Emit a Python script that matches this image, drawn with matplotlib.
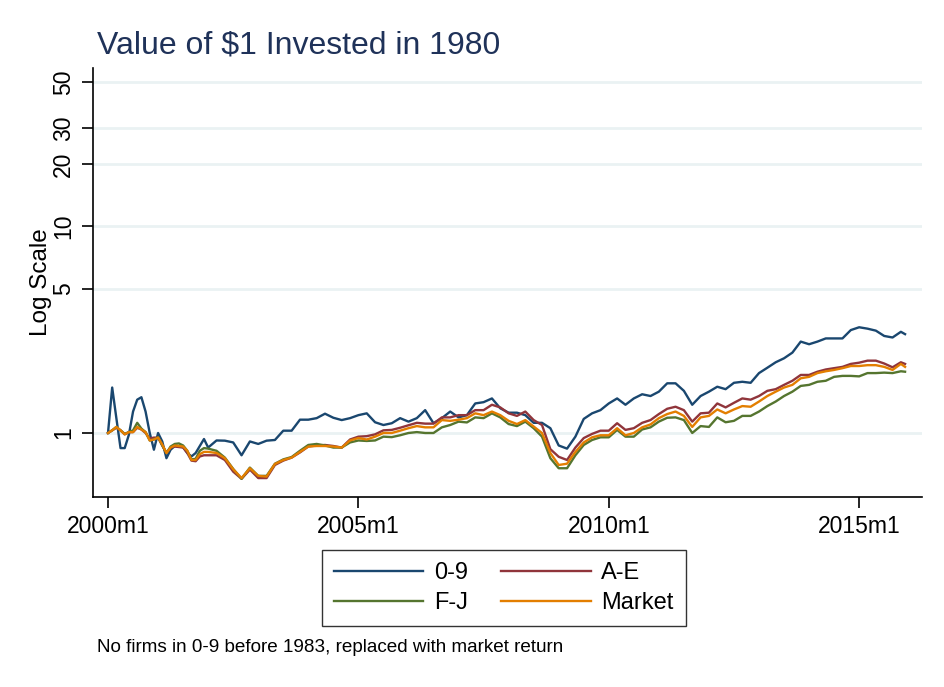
import matplotlib
matplotlib.use("Agg")
import matplotlib.pyplot as plt
from matplotlib.ticker import FixedLocator, NullLocator

plt.rcParams['font.family'] = ['Liberation Sans', 'DejaVu Sans']

# month index counted from 2000m1: monthly for the first two years, then every other month
months = list(range(0, 24)) + list(range(24, 192, 2)) + [191]

val_09 = [1.0, 1.66, 1.18, 0.845, 0.845, 0.98, 1.27, 1.45, 1.49, 1.27, 1.0, 0.83,
          1.0, 0.91, 0.755, 0.83, 0.865, 0.86, 0.855, 0.80, 0.77, 0.80, 0.865, 0.935,
          0.85, 0.92, 0.918, 0.90, 0.78, 0.91, 0.885, 0.918, 0.925, 1.026, 1.026, 1.16,
          1.16, 1.18, 1.24, 1.185, 1.155, 1.18, 1.22, 1.245, 1.127, 1.093, 1.115, 1.18,
          1.135, 1.18, 1.29, 1.115, 1.18, 1.27, 1.19, 1.22, 1.39, 1.41, 1.47, 1.317,
          1.254, 1.254, 1.22, 1.12, 1.12, 1.055, 0.87, 0.84, 0.96, 1.17, 1.245, 1.29,
          1.39, 1.47, 1.37, 1.47, 1.54, 1.51, 1.585, 1.74, 1.74, 1.60, 1.37, 1.51,
          1.585, 1.675, 1.63, 1.75, 1.77, 1.75, 1.95, 2.07, 2.2, 2.3, 2.45, 2.77,
          2.69, 2.77, 2.87, 2.87, 2.87, 3.15, 3.25, 3.2, 3.13, 2.95, 2.9, 3.09, 3.01]

val_ae = [1.0, 1.03, 1.06, 1.03, 0.985, 1.01, 1.01, 1.06, 1.04, 1.0, 0.94, 0.95,
          0.95, 0.87, 0.80, 0.85, 0.86, 0.855, 0.85, 0.80, 0.735, 0.73, 0.77, 0.78,
          0.78, 0.78, 0.74, 0.65, 0.60, 0.665, 0.605, 0.605, 0.70, 0.735, 0.76, 0.805,
          0.86, 0.87, 0.875, 0.865, 0.85, 0.93, 0.96, 0.965, 0.985, 1.03, 1.035, 1.06,
          1.09, 1.12, 1.11, 1.11, 1.19, 1.19, 1.22, 1.22, 1.29, 1.29, 1.37, 1.33,
          1.245, 1.21, 1.27, 1.155, 1.093, 0.835, 0.767, 0.74, 0.85, 0.945, 0.99, 1.026,
          1.026, 1.115, 1.035, 1.055, 1.12, 1.155, 1.235, 1.31, 1.34, 1.29, 1.135, 1.245,
          1.254, 1.39, 1.33, 1.40, 1.47, 1.45, 1.51, 1.60, 1.63, 1.71, 1.79, 1.91,
          1.91, 1.98, 2.03, 2.06, 2.09, 2.16, 2.19, 2.24, 2.24, 2.17, 2.08, 2.2, 2.16]

val_fj = [1.0, 1.03, 1.07, 1.03, 0.99, 1.01, 1.03, 1.12, 1.05, 1.01, 0.92, 0.93,
          0.955, 0.87, 0.80, 0.86, 0.885, 0.89, 0.87, 0.82, 0.745, 0.75, 0.82, 0.845,
          0.84, 0.82, 0.76, 0.67, 0.60, 0.68, 0.62, 0.62, 0.71, 0.745, 0.765, 0.82,
          0.875, 0.885, 0.87, 0.85, 0.85, 0.90, 0.92, 0.915, 0.92, 0.96, 0.955, 0.975,
          1.0, 1.01, 1.0, 1.0, 1.065, 1.093, 1.135, 1.125, 1.19, 1.18, 1.245, 1.19,
          1.105, 1.08, 1.135, 1.055, 0.96, 0.755, 0.675, 0.675, 0.78, 0.875, 0.925, 0.953,
          0.953, 1.035, 0.96, 0.96, 1.04, 1.065, 1.135, 1.185, 1.19, 1.155, 1.0, 1.08,
          1.07, 1.19, 1.127, 1.145, 1.21, 1.21, 1.27, 1.35, 1.42, 1.51, 1.585, 1.69,
          1.71, 1.77, 1.79, 1.87, 1.89, 1.89, 1.88, 1.95, 1.95, 1.96, 1.95, 1.99, 1.98]

val_mkt = [1.0, 1.03, 1.07, 1.03, 0.985, 1.01, 1.01, 1.07, 1.04, 1.01, 0.92, 0.93,
           0.95, 0.88, 0.80, 0.85, 0.87, 0.865, 0.86, 0.82, 0.74, 0.74, 0.79, 0.81,
           0.81, 0.80, 0.755, 0.667, 0.605, 0.675, 0.62, 0.615, 0.708, 0.74, 0.76, 0.81,
           0.86, 0.865, 0.865, 0.86, 0.85, 0.92, 0.945, 0.93, 0.96, 1.0, 1.0, 1.026,
           1.055, 1.08, 1.065, 1.065, 1.155, 1.145, 1.16, 1.18, 1.245, 1.22, 1.27, 1.22,
           1.145, 1.105, 1.155, 1.075, 1.0, 0.80, 0.70, 0.71, 0.81, 0.90, 0.953, 0.975,
           0.975, 1.055, 0.975, 1.0, 1.065, 1.10, 1.18, 1.235, 1.27, 1.21, 1.07, 1.19,
           1.21, 1.30, 1.245, 1.30, 1.35, 1.34, 1.42, 1.51, 1.585, 1.66, 1.71, 1.84,
           1.87, 1.95, 1.99, 2.02, 2.06, 2.11, 2.11, 2.13, 2.13, 2.09, 2.02, 2.16, 2.09]

series = [("0-9", val_09, "#1a476f"),
          ("A-E", val_ae, "#90353b"),
          ("F-J", val_fj, "#55752f"),
          ("Market", val_mkt, "#e37e00")]

y_ticks = [1, 5, 10, 20, 30, 50]
x_ticks = [0, 60, 120, 180]
x_labels = ["2000m1", "2005m1", "2010m1", "2015m1"]

fig = plt.figure(figsize=(9.45, 6.87), dpi=100)
ax = fig.add_axes([0.0984, 0.2766, 0.877, 0.6244])

lines = {}
for label, vals, color in series:
    lines[label], = ax.plot(months, vals, color=color, lw=1.7, label=label)

ax.set_yscale("log")
ax.set_ylim(0.49, 58.5)
ax.set_xlim(-3.6, 195)
ax.yaxis.set_major_locator(FixedLocator(y_ticks))
ax.yaxis.set_minor_locator(NullLocator())
ax.set_yticklabels([str(t) for t in y_ticks], rotation=90, va="center", fontsize=16.5)
ax.set_xticks(x_ticks)
ax.set_xticklabels(x_labels, fontsize=16.5)
ax.tick_params(axis="both", length=8, width=1.2, direction="out", pad=5)

for t in y_ticks:
    ax.axhline(t, color="#eaf2f3", lw=2, zorder=0)

for s in ["top", "right"]:
    ax.spines[s].set_visible(False)
for s in ["left", "bottom"]:
    ax.spines[s].set_linewidth(1.2)

ax.set_ylabel("Log Scale", fontsize=17.5, labelpad=0)
fig.text(0.1026, 0.934, r"Value of \$1 Invested in 1980", fontsize=23,
         color="#1f3259", va="center")

# row-wise order: 0-9, A-E / F-J, Market
order = ["0-9", "F-J", "A-E", "Market"]
leg = fig.legend([lines[k] for k in order], order, ncol=2, loc="center",
                 bbox_to_anchor=(0.533, 0.144), fontsize=17,
                 frameon=True, fancybox=False, edgecolor="black", handlelength=3.8,
                 columnspacing=1.4, handletextpad=0.45, labelspacing=0.36,
                 borderpad=0.5)
leg.get_frame().set_linewidth(1.0)

fig.text(0.1026, 0.057, "No firms in 0-9 before 1983, replaced with market return",
         fontsize=13.6, va="center")

fig.savefig("out.png", dpi=100, facecolor="white")
